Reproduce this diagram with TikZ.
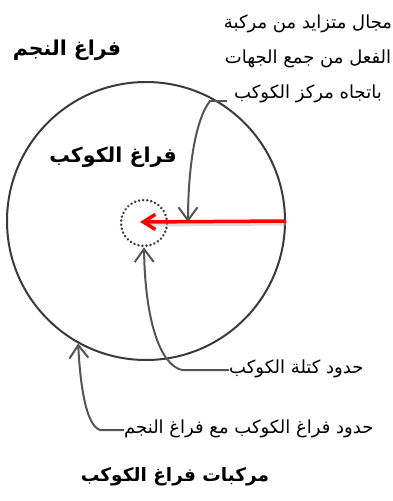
\documentclass[tikz,border=0pt]{standalone}
\usepackage{fontspec}
\TeXXeTstate=1
\newfontfamily\arabicfont[Script=Arabic]{DejaVu Sans}
\usetikzlibrary{arrows.meta}
\newcommand{\ar}[1]{{\arabicfont\beginR #1\endR}}
\definecolor{lineg}{HTML}{555555}
\definecolor{circg}{HTML}{3A3A3A}
\tikzset{
  conn/.style={draw=lineg, line width=2pt, -{Straight Barb[length=13pt,width=19pt,line width=2pt]}},
  lbl/.style={inner sep=0pt, font=\fontsize{18}{35}\selectfont},
  bold/.style={inner sep=0pt, font=\fontsize{20.5}{24}\selectfont\bfseries},
}
\begin{document}
\begin{tikzpicture}[x=1pt,y=-1pt]
\useasboundingbox (0,0) rectangle (392,501);
% main circle and core
\node[circle, draw=circg, line width=2pt, minimum size=278pt, inner sep=0pt] (space) at (146,221) {};
\node[circle, draw=circg, line width=2.7pt, dash pattern=on 0.1pt off 4pt, line cap=round, minimum size=46pt, inner sep=0pt] (core) at (144,223) {};
\coordinate (redtip) at (140,222);
\coordinate (hitA) at (188,222);
% red arrow with soft shadow
\draw[black!30, line width=4pt, opacity=0.45] ([yshift=-2.5]space.east) -- (150,224.5);
\draw[red, line width=3.5pt, -{Straight Barb[length=12pt,width=15pt,line width=3.5pt]}] (space.east) -- (redtip);
% texts
\node[bold] (star) at (67,50) {\ar{فراغ النجم}};
\node[bold] (pspace) at (113,157) {\ar{فراغ الكوكب}};
\node[lbl, align=center] (t1) at (308,59) {\ar{مجال متزايد من مركبة}\\\ar{الفعل من جمع الجهات}\\\ar{باتجاه مركز الكوكب}};
\node[lbl, anchor=west] (t2) at (229,369) {\ar{حدود كتلة الكوكب}};
\node[lbl, anchor=west] (t3) at (124,429) {\ar{حدود فراغ الكوكب مع فراغ النجم}};
\node[bold, font=\fontsize{18.5}{22}\selectfont\bfseries] (title) at (175,477) {\ar{مركبات فراغ الكوكب}};
% connectors
\coordinate (s1) at (227,101);
\draw[conn] (s1) -- (210,101) .. controls (195,120) and (188,170) .. (hitA);
\draw[conn] (229,370) -- (182,370) .. controls (160,365) and (145,320) .. (core.south);
\draw[conn] (124,430) -- (100,430) .. controls (85,425) and (80,380) .. (space.241);
\end{tikzpicture}
\end{document}
